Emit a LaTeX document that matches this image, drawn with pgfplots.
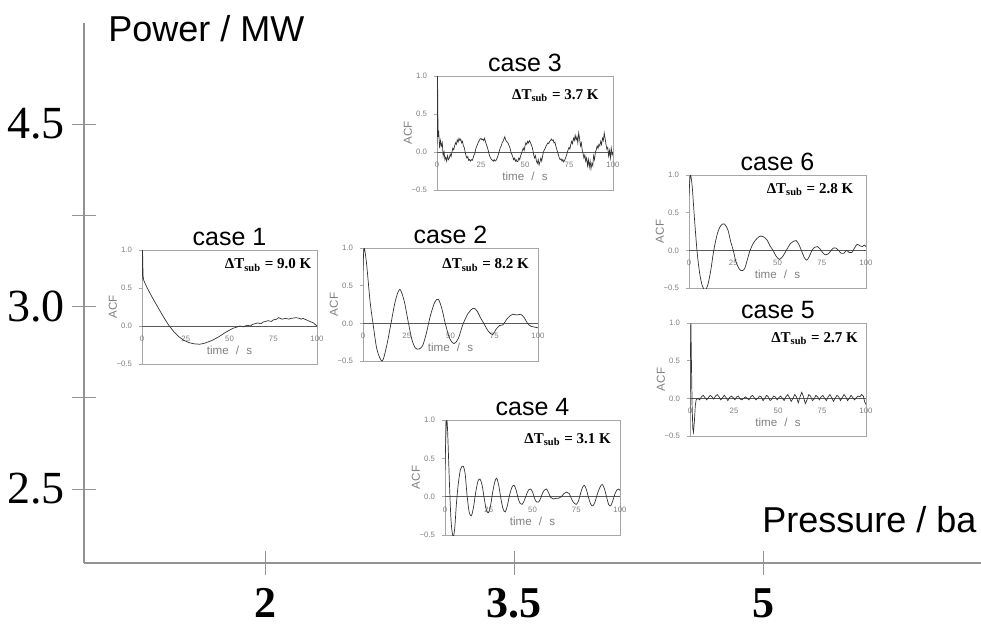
\documentclass[border=0pt]{standalone}
\usepackage{fontspec}
\setmainfont{Liberation Serif}
\setsansfont{Liberation Sans}
\usepackage{pgfplots}
\pgfplotsset{compat=1.18}

\newcommand{\tickfont}{\fontsize{3.9}{4}\selectfont\sffamily}
\newcommand{\labfont}{\fontsize{5.8}{6}\selectfont\sffamily}
\newcommand{\dtfont}{\fontsize{7.5}{8}\selectfont\bfseries}

\pgfplotsset{
  inset/.style={
    scale only axis,
    anchor=south west,
    xmin=0, xmax=100, ymin=-0.5, ymax=1,
    /pgf/number format/assume math mode=true,
    axis line style={gray!70, line width=0.4pt},
    xtick={0,25,50,75,100},
    ytick={-0.5,0,0.5,1},
    yticklabels={−0.5,0.0,0.5,1.0},
    xtick style={draw=none},
    ytick pos=left,
    ytick style={gray!70},
    tick align=outside,
    major tick length=1.5pt,
    tick label style={font=\tickfont, text=gray},
    xticklabel style={yshift=#1},
    xlabel={time\,\, /\,\, s},
    xlabel style={font=\labfont, text=gray, at={(axis description cs:0.5,0.12)}, anchor=center},
    ylabel={ACF},
    ylabel style={font=\labfont, text=gray, at={(axis description cs:0,0.5)}, anchor=center, yshift=14.5pt},
    every axis title shift=0pt,
    title style={font=\fontsize{12.5}{13}\selectfont\sffamily, inner sep=0pt, anchor=south, yshift=2pt},
    extra y ticks={0}, extra y tick labels={},
    extra y tick style={grid=major, major grid style={black!65, line width=0.4pt}},
  },
  acf/.style={black!80, line width=0.35pt, mark=none},
}

\begin{document}
\begin{tikzpicture}
\useasboundingbox (0,0) rectangle (490.5pt,314.5pt);

% main axes
\begin{axis}[
  at={(42pt,33pt)}, anchor=south west,
  scale only axis, width=448.5pt, height=270pt,
  xmin=0.9096, xmax=6.313, ymin=-0.811, ymax=5.107,
  axis lines*=left,
  axis line style={gray!85, line width=0.6pt},
  xtick={2,3.5,5}, xticklabels={2,3.5,5},
  ytick={0,1,2,3,4}, yticklabels={2.5,,3.0,,4.5},
  tick align=center, major tick length=12pt,
  tick style={gray!85, line width=0.5pt},
  xticklabel style={font=\fontsize{22}{24}\selectfont\bfseries, anchor=base, inner sep=0pt, yshift=-21pt},
  yticklabel style={font=\fontsize{23}{25}\selectfont, anchor=east},
]
\end{axis}

\node[anchor=base west, font=\fontsize{18}{20}\selectfont\sffamily, inner sep=0pt] at (54pt,294pt) {Power / MW};
\node[anchor=base west, font=\fontsize{18}{20}\selectfont\sffamily, inner sep=0pt] at (381pt,48.5pt) {Pressure / ba};

% case 1
\begin{axis}[inset=19pt, at={(71pt,132.5pt)}, width=87.5pt, height=57pt, title={case 1}]
\addplot[acf] coordinates {(0,0.6) (0.3,1.0) (0.6,0.66) (1,0.6) (3,0.5) (6,0.37) (9,0.25) (12,0.13) (15,0.02) (18,-0.07) (21,-0.14) (24,-0.19) (27,-0.22) (30,-0.235) (33,-0.24) (36,-0.225) (40,-0.19) (44,-0.14) (48,-0.08) (52,-0.03) (56,0.0) (58,-0.01) (60,0.01) (62,0.0) (63,0.02) (66,0.04) (68,0.03) (69,0.05) (72,0.07) (74,0.06) (75,0.08) (77,0.09) (78,0.11) (80,0.09) (82,0.1) (84,0.09) (85,0.1) (88,0.11) (90,0.1) (91,0.09) (92,0.1) (94,0.08) (96,0.06) (98,0.04) (100,0.0)};
\node[anchor=east, font=\dtfont, inner sep=0pt] at (rel axis cs:0.97,0.867) {ΔT\textsubscript{sub} = 9.0 K};
\end{axis}

% case 2
\begin{axis}[inset=19pt, at={(181.5pt,134pt)}, width=87.5pt, height=56.5pt, title={case 2}]
\addplot[acf, smooth, tension=0.5] coordinates {(0,0.7) (0.6,1.0) (2,0.8) (4,0.3) (5.7,0) (8,-0.35) (11,-0.5) (13.5,-0.3) (16,0) (18.5,0.3) (21,0.45) (23.5,0.3) (26,0) (28,-0.22) (30,-0.33) (32,-0.34) (34,-0.3) (36,-0.15) (38.5,0.1) (41,0.28) (43,0.32) (45,0.2) (47,0) (49.5,-0.2) (52,-0.27) (54.5,-0.2) (57,-0.02) (60,0.13) (63,0.2) (65,0.17) (67,0.08) (69,0) (71.5,-0.1) (74,-0.15) (76,-0.08) (78,-0.03) (80,-0.02) (82,0.05) (84,0.1) (86,0.12) (88,0.11) (90,0.12) (92,0.08) (94,0.0) (96,-0.04) (98,-0.05) (100,-0.06)};
\node[anchor=east, font=\dtfont, inner sep=0pt] at (rel axis cs:0.95,0.85) {ΔT\textsubscript{sub} = 8.2 K};
\end{axis}

% case 3
\begin{axis}[inset=19pt, at={(218.5pt,219.5pt)}, width=88pt, height=57pt, title={case 3}]
\addplot[acf] coordinates {(0,0.1) (0.3,1.0) (0.6,0.2) (1,0.25) (1.5,0.05) (2,0.15) (2.5,0.08) (3,0.12) (3.5,-0.05) (4,0.0) (4.5,-0.1) (5,-0.07) (5.5,-0.12) (6,-0.05) (6.5,-0.1) (7,-0.08) (7.5,-0.03) (8,-0.06) (8.5,0.0) (9,0.05) (9.5,0.03) (10,0.08) (10.5,0.12) (11,0.1) (11.5,0.16) (12,0.13) (12.5,0.18) (13,0.15) (13.5,0.17) (14,0.12) (14.5,0.14) (15,0.08) (15.5,0.06) (16,0.0) (16.5,-0.05) (17,-0.08) (17.5,-0.06) (18,-0.11) (18.5,-0.1) (19,-0.12) (19.5,-0.1) (20,-0.11) (20.5,-0.08) (21,-0.04) (21.5,-0.02) (22,0.04) (22.5,0.07) (23,0.1) (23.5,0.13) (24,0.15) (24.5,0.17) (25,0.18) (25.5,0.16) (26,0.17) (26.5,0.15) (27,0.18) (27.5,0.14) (28,0.1) (28.5,0.07) (29,0.03) (29.5,-0.02) (30,-0.06) (30.5,-0.08) (31,-0.1) (31.5,-0.11) (32,-0.12) (32.5,-0.1) (33,-0.12) (33.5,-0.11) (34,-0.09) (34.5,-0.06) (35,-0.02) (35.5,0.02) (36,0.06) (36.5,0.08) (37,0.12) (37.5,0.14) (38,0.17) (38.5,0.2) (39,0.16) (39.5,0.14) (40,0.13) (40.5,0.11) (41,0.08) (41.5,0.05) (42,0.0) (42.5,-0.03) (43,-0.06) (43.5,-0.1) (44,-0.08) (44.5,-0.12) (45,-0.1) (45.5,-0.13) (46,-0.12) (46.5,-0.08) (47,-0.1) (47.5,-0.05) (48,-0.02) (48.5,0.02) (49,0.05) (49.5,0.02) (50,0.08) (50.5,0.12) (51,0.1) (51.5,0.14) (52,0.12) (52.5,0.15) (53,0.13) (53.5,0.1) (54,0.07) (54.5,0.02) (55,-0.04) (55.5,-0.08) (56,-0.05) (56.5,-0.12) (57,-0.15) (57.5,-0.1) (58,-0.17) (58.5,-0.13) (59,-0.08) (59.5,-0.12) (60,-0.05) (60.5,0.0) (61,0.03) (61.5,0.05) (62,0.08) (62.5,0.1) (63,0.12) (63.5,0.11) (64,0.14) (64.5,0.15) (65,0.17) (65.5,0.15) (66,0.16) (66.5,0.12) (67,0.13) (67.5,0.08) (68,0.04) (68.5,0.0) (69,-0.04) (69.5,-0.08) (70,-0.1) (70.5,-0.09) (71,-0.12) (71.5,-0.1) (72,-0.13) (72.5,-0.11) (73,-0.08) (73.5,-0.05) (74,-0.01) (74.5,0.03) (75,0.06) (75.5,0.04) (76,0.1) (76.5,0.14) (77,0.11) (77.5,0.18) (78,0.15) (78.5,0.22) (79,0.16) (79.5,0.2) (80,0.12) (80.5,0.25) (81,0.18) (81.5,0.08) (82,0.12) (82.5,0.03) (83,-0.02) (83.5,-0.08) (84,-0.04) (84.5,-0.12) (85,-0.08) (85.5,-0.18) (86,-0.1) (86.5,-0.2) (87,-0.12) (87.5,-0.22) (88,-0.15) (88.5,-0.18) (89,-0.05) (89.5,-0.1) (90,0.0) (90.5,0.03) (91,0.08) (91.5,0.05) (92,0.1) (92.5,0.08) (93,0.14) (93.5,0.1) (94,0.18) (94.5,0.15) (95,0.25) (95.5,0.18) (96,0.1) (96.5,0.04) (97,0.06) (97.5,-0.05) (98,0.02) (98.5,-0.08) (99,0.05) (99.5,-0.04) (100,0.0)};
\node[anchor=east, font=\dtfont, inner sep=0pt] at (rel axis cs:0.92,0.83) {ΔT\textsubscript{sub} = 3.7 K};
\end{axis}

% case 4
\begin{axis}[inset=19pt, at={(222.5pt,47pt)}, width=87.5pt, height=57.5pt, title={case 4}]
\addplot[acf, smooth, tension=0.5] coordinates {(0,0.35) (0.5,0.8) (1,1.0) (1.5,0.85) (2.5,0.2) (3.3,-0.25) (4,-0.45) (4.8,-0.52) (5.6,-0.4) (6.5,-0.1) (7.5,0.15) (8.8,0.35) (10.3,0.4) (11.5,0.3) (12.6,0.02) (13.8,-0.2) (15,-0.25) (16.2,-0.15) (17.5,0.05) (18.8,0.2) (20,0.23) (21.2,0.15) (22.4,-0.02) (23.6,-0.17) (24.8,-0.21) (26,-0.12) (27.2,0.05) (28.4,0.19) (29.5,0.24) (30.7,0.15) (31.9,-0.02) (33.2,-0.16) (34.4,-0.2) (35.6,-0.12) (36.9,0.02) (38.2,0.12) (39.4,0.15) (40.6,0.09) (41.8,-0.02) (43,-0.09) (44.1,-0.1) (45.3,-0.05) (46.6,0.03) (47.8,0.09) (49,0.1) (50.2,0.05) (51.3,-0.03) (52.4,-0.07) (53.5,-0.07) (54.7,-0.02) (55.8,0.05) (57,0.09) (58,0.1) (59.2,0.05) (60.4,-0.01) (62,-0.03) (63.5,-0.02) (65,-0.02) (66.5,0.0) (68,0.04) (69.5,0.06) (71,0.04) (72.5,-0.04) (74,-0.09) (75,-0.1) (76.2,-0.06) (77.3,0.03) (78.4,0.11) (79.5,0.15) (80.7,0.1) (82,-0.01) (83.3,-0.1) (84.5,-0.12) (85.7,-0.07) (87,0.03) (88.5,0.12) (89.8,0.16) (91,0.11) (92.3,0.0) (93.5,-0.1) (94.6,-0.12) (95.8,-0.06) (97,0.03) (98.3,0.09) (99.2,0.1) (100,0.08)};
\node[anchor=east, font=\dtfont, inner sep=0pt] at (rel axis cs:0.95,0.83) {ΔT\textsubscript{sub} = 3.1 K};
\end{axis}

% case 6
\begin{axis}[inset=19pt, at={(344.5pt,170.5pt)}, width=88.5pt, height=56.5pt, title={case 6}]
\addplot[acf, smooth, tension=0.5] coordinates {(0,0.73) (0.75,1.0) (1.8,0.85) (3,0.45) (4.5,0.0) (6,-0.3) (7.5,-0.47) (9,-0.53) (10.5,-0.47) (12.2,-0.28) (14,0.0) (16,0.22) (18,0.33) (20,0.35) (22,0.27) (23.5,0.12) (25,0.0) (26.5,-0.15) (28.5,-0.25) (30,-0.27) (31.5,-0.24) (33,-0.12) (34.5,0.0) (36.5,0.1) (38.5,0.16) (40.5,0.19) (42,0.18) (44,0.14) (46,0.05) (47.5,0.0) (49,-0.07) (51,-0.12) (53,-0.08) (55,0.0) (57,0.08) (59,0.12) (60.5,0.13) (62,0.08) (63.5,0.0) (65,-0.09) (66.5,-0.13) (68,-0.08) (69.5,0.0) (71,0.04) (72.5,0.05) (74,0.02) (75.5,-0.03) (77,-0.06) (78.5,-0.05) (80,-0.01) (81.5,0.03) (83,0.03) (84.5,0.0) (86,-0.04) (87.5,-0.04) (89,0.0) (90.5,-0.03) (92,-0.03) (93.5,0.03) (95,0.08) (96.5,0.06) (98,0.05) (99,0.07) (100,0.05)};
\node[anchor=east, font=\dtfont, inner sep=0pt] at (rel axis cs:0.93,0.87) {ΔT\textsubscript{sub} = 2.8 K};
\end{axis}

% case 5
\begin{axis}[inset=19pt, at={(345pt,96.5pt)}, width=88pt, height=56.5pt, title={case 5}]
\addplot[acf] coordinates {(0,-0.2) (0.2,0.5) (0.5,1.0) (0.8,0.5) (1.2,-0.1) (1.6,-0.4) (2,-0.45) (2.5,-0.3) (3,-0.1) (3.5,-0.02) (4.5,0.0) (5.5,-0.02) (6.5,0.02) (7.5,0.04) (8.5,0.01) (9.5,-0.02) (10.5,0.01) (11.5,0.04) (12.5,0.02) (13.5,-0.01) (14.5,0.03) (15.5,0.05) (16.5,0.02) (17.5,-0.02) (18.5,0.01) (19.5,0.04) (20.5,0.01) (21.5,-0.03) (22.5,0.01) (23.5,0.03) (24.5,0.01) (25.5,-0.02) (26.5,0.02) (27.5,0.03) (28.5,-0.01) (29.5,-0.02) (30.5,0.0) (31.5,0.02) (32.5,0.0) (33.5,-0.02) (34.5,0.02) (35.5,0.04) (36.5,0.01) (37.5,-0.02) (38.5,0.0) (39.5,0.03) (40.5,0.02) (41.5,-0.03) (42.5,0.0) (43.5,0.04) (44.5,0.02) (45.5,-0.03) (46.5,-0.01) (47.5,0.03) (48.5,0.02) (49.5,-0.02) (50.5,0.01) (51.5,0.03) (52.5,0.0) (53.5,-0.03) (54.5,0.02) (55.5,0.05) (56.5,0.01) (57.5,-0.04) (58.5,0.0) (59.5,0.05) (60.5,0.02) (61.5,-0.06) (62.5,0.02) (63.5,0.08) (64.5,0.02) (65.5,-0.07) (66.5,-0.02) (67.5,0.05) (68.5,0.03) (69.5,-0.03) (70.5,-0.01) (71.5,0.04) (72.5,0.02) (73.5,-0.02) (74.5,0.02) (75.5,0.04) (76.5,0.0) (77.5,-0.03) (78.5,0.02) (79.5,0.05) (80.5,0.01) (81.5,-0.04) (82.5,0.0) (83.5,0.04) (84.5,0.02) (85.5,-0.03) (86.5,0.01) (87.5,0.05) (88.5,0.02) (89.5,-0.03) (90.5,0.0) (91.5,0.04) (92.5,0.01) (93.5,-0.02) (94.5,0.01) (95.5,0.03) (96.5,0.02) (97.5,0.05) (98.5,0.03) (99.3,-0.05) (100,-0.08)};
\node[anchor=east, font=\dtfont, inner sep=0pt] at (rel axis cs:0.955,0.86) {ΔT\textsubscript{sub} = 2.7 K};
\end{axis}
\end{tikzpicture}
\end{document}
